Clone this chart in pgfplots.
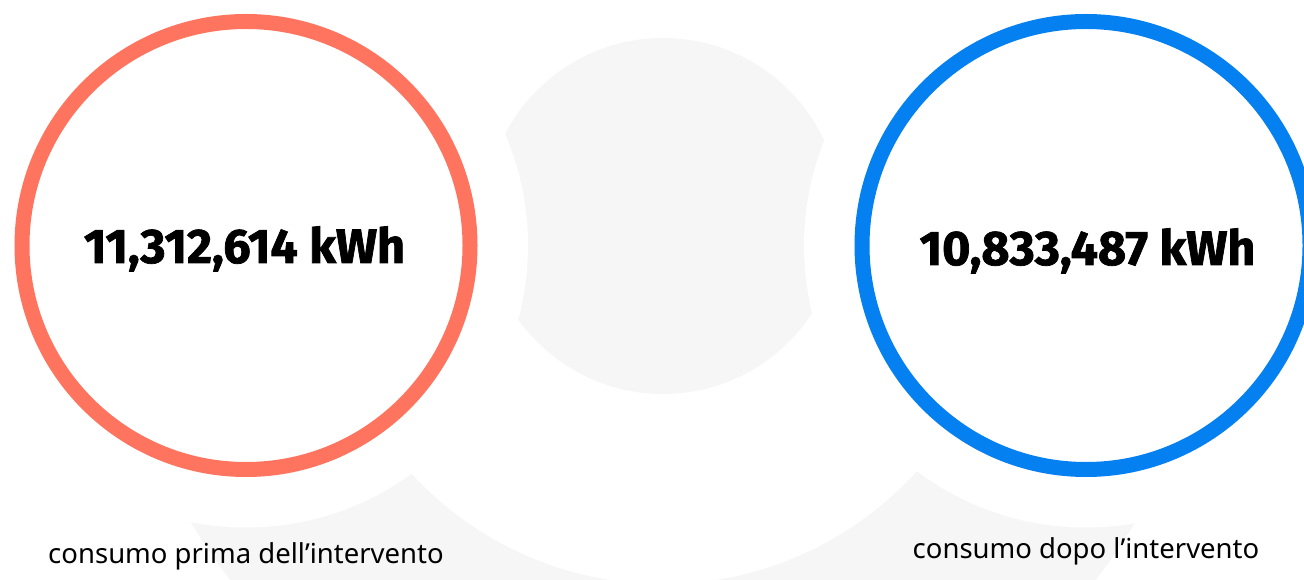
\documentclass[border=0pt]{standalone}
\usepackage{fontspec}
\usepackage{graphicx}
\usepackage{pgfplots}
\usepackage{pgfplotstable}
\pgfplotsset{compat=1.18}
\setmainfont{Noto Sans}
\newfontfamily\numfont{Fira Sans}[BoldFeatures={FakeBold=1.5}]

\definecolor{coral}{HTML}{FF745F}
\definecolor{azure}{HTML}{0580F0}
\definecolor{bgrey}{HTML}{F6F6F6}

% ring centres (x, y in pixel units, y up)
\pgfplotstableread{
x y
246 333.5
}\before
\pgfplotstableread{
x y
1086 333.5
}\after

\pgfplotstableread[col sep=semicolon]{
x;y;label
244.5;316;11,312,614 kWh
1087.5;314;10,833,487 kWh
}\values

\pgfplotstableread[col sep=semicolon]{
x;y;label
246;16;consumo prima dell’intervento
1086;21;consumo dopo l’intervento
}\captions

\begin{document}
\begin{tikzpicture}
\begin{axis}[
    width=1304bp, height=579bp,
    scale only axis,
    xmin=0, xmax=1304,
    ymin=0, ymax=579,
    hide axis,
    clip=false,
]
% background shapes
\begin{scope}
  \clip (axis cs:0,0) rectangle (axis cs:1304,279);
  \fill[bgrey, even odd rule] (axis cs:663,337) circle[radius=549bp]
                               (axis cs:663,337) circle[radius=342bp];
\end{scope}
\fill[bgrey] (axis cs:663,363) circle[radius=178bp];
\fill[white] (axis cs:246,333.5) circle[radius=282bp];
\fill[white] (axis cs:1086,333.5) circle[radius=282bp];

% rings
\addplot[only marks, mark=o, mark size=224bp,
         mark options={draw=coral, line width=15bp}] table[x=x,y=y]{\before};
\addplot[only marks, mark=o, mark size=224bp,
         mark options={draw=azure, line width=15bp}] table[x=x,y=y]{\after};

% values
\addplot[only marks, mark=none, point meta=explicit symbolic,
         nodes near coords={\scalebox{1.15}{\resizebox{!}{32bp}{\numfont\bfseries\pgfplotspointmeta}}},
         nodes near coords style={anchor=base, inner sep=0pt}]
         table[x=x,y=y,meta=label]{\values};

% captions
\addplot[only marks, mark=none, point meta=explicit symbolic,
         nodes near coords={\fontsize{27.5bp}{32bp}\selectfont\pgfplotspointmeta},
         nodes near coords style={anchor=base, inner sep=0pt}]
         table[x=x,y=y,meta=label]{\captions};
\end{axis}
\pgfresetboundingbox
\path (current axis.south west) rectangle (current axis.north east);
\end{tikzpicture}
\end{document}
